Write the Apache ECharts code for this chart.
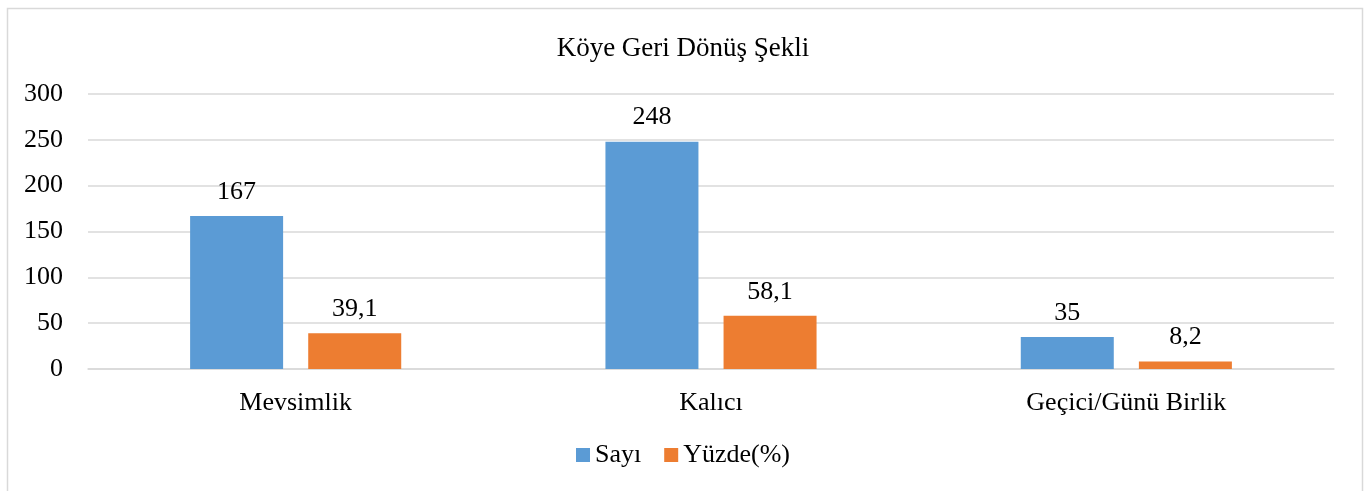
<!DOCTYPE html>
<html lang="tr" style="height: 100%">
<head>
  <meta charset="utf-8">
</head>
<body style="height: 100%; margin: 0; background: #fff">
  <div id="container" style="width: 1366px; height: 491px"></div>
  <script type="text/javascript" src="https://fastly.jsdelivr.net/npm/echarts@6.0.0/dist/echarts.min.js"></script>
  <script type="text/javascript">
    var categories = ['Mevsimlik', 'Kalıcı', 'Geçici/Günü Birlik'];
    var sayi = [167, 248, 35];
    var yuzde = [39.1, 58.1, 8.2];
    var yTicks = [0, 50, 100, 150, 200, 250, 300];

    var FONT = '"Liberation Serif", "Times New Roman", serif';
    var dom = document.getElementById('container');
    var myChart = echarts.init(dom, null, { renderer: 'canvas' });

    var labelStyle = {
      show: true,
      position: 'top',
      distance: 11,
      fontFamily: FONT,
      fontSize: 26,
      color: '#000',
      formatter: function (p) { return String(p.value).replace('.', ','); }
    };

    var option = {
      animation: false,
      backgroundColor: '#fff',
      textStyle: { fontFamily: FONT },
      graphic: [{
        type: 'rect',
        shape: { x: 7.5, y: 8.5, width: 1355, height: 500 },
        style: { fill: 'none', stroke: '#d9d9d9', lineWidth: 1.5 },
        silent: true
      }],
      title: {
        text: 'Köye Geri Dönüş Şekli',
        left: 'center',
        top: 30,
        textStyle: { fontFamily: FONT, fontSize: 27, fontWeight: 'normal', color: '#000' }
      },
      legend: {
        bottom: 18,
        left: 'center',
        itemWidth: 14,
        itemHeight: 14,
        itemGap: 23,
        icon: 'rect',
        textStyle: { fontFamily: FONT, fontSize: 26, color: '#000' },
        data: ['Sayı', 'Yüzde(%)']
      },
      grid: { left: 88, right: 32, top: 94, height: 275 },
      xAxis: {
        type: 'category',
        data: categories,
        axisLine: { lineStyle: { color: '#d9d9d9', width: 1.5 } },
        axisTick: { show: false },
        axisLabel: { fontFamily: FONT, fontSize: 26, color: '#000', margin: 21 }
      },
      yAxis: {
        type: 'value',
        min: yTicks[0],
        max: yTicks[yTicks.length - 1],
        interval: 50,
        axisLine: { show: false },
        axisTick: { show: false },
        axisLabel: { fontFamily: FONT, fontSize: 26, color: '#000', margin: 25 },
        splitLine: { lineStyle: { color: '#d9d9d9', width: 1.5 } }
      },
      series: [
        {
          name: 'Sayı',
          type: 'bar',
          data: sayi,
          barWidth: 93,
          barGap: '27%',
          itemStyle: { color: '#5B9BD5' },
          label: labelStyle
        },
        {
          name: 'Yüzde(%)',
          type: 'bar',
          data: yuzde,
          barWidth: 93,
          barGap: '27%',
          itemStyle: { color: '#ED7D31' },
          label: labelStyle
        }
      ]
    };

    myChart.setOption(option);
    window.addEventListener('resize', myChart.resize);
  </script>
</body>
</html>
